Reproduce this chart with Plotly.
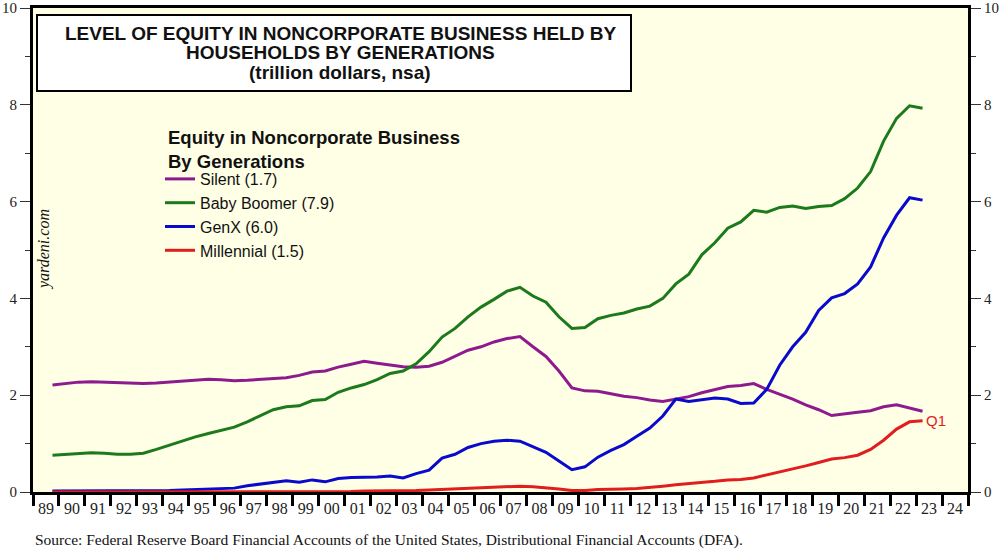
import plotly.graph_objects as go

# Semi-annual observation times (quarter ends: Q3 and Q1), 1989Q3 .. 2023Q1
t = [1989.75 + 0.5 * i for i in range(68)]

silent = [2.21, 2.24, 2.27, 2.28, 2.27, 2.26, 2.25, 2.24, 2.25, 2.27,
          2.29, 2.31, 2.33, 2.32, 2.30, 2.31, 2.33, 2.34, 2.36, 2.41,
          2.48, 2.50, 2.58, 2.64, 2.70, 2.66, 2.63, 2.59, 2.58, 2.60,
          2.68, 2.80, 2.93, 3.00, 3.10, 3.17, 3.21, 3.00, 2.80, 2.50,
          2.15, 2.09, 2.08, 2.03, 1.98, 1.95, 1.90, 1.87, 1.92, 1.97,
          2.05, 2.12, 2.18, 2.20, 2.24, 2.12, 2.02, 1.92, 1.80, 1.70,
          1.58, 1.62, 1.65, 1.68, 1.76, 1.80, 1.74, 1.67]

boomer = [0.76, 0.78, 0.80, 0.81, 0.80, 0.78, 0.78, 0.80, 0.88, 0.97,
          1.06, 1.14, 1.21, 1.28, 1.34, 1.45, 1.58, 1.70, 1.76, 1.78,
          1.89, 1.91, 2.06, 2.15, 2.22, 2.32, 2.45, 2.50, 2.65, 2.90,
          3.20, 3.38, 3.62, 3.82, 3.98, 4.15, 4.23, 4.05, 3.92, 3.62,
          3.38, 3.40, 3.58, 3.65, 3.70, 3.78, 3.84, 4.00, 4.30, 4.50,
          4.90, 5.15, 5.45, 5.58, 5.82, 5.78, 5.88, 5.91, 5.86, 5.90,
          5.92, 6.06, 6.28, 6.62, 7.25, 7.72, 7.98, 7.93]

genx = [0.02, 0.02, 0.02, 0.02, 0.02, 0.02, 0.02, 0.02, 0.03, 0.03,
        0.04, 0.05, 0.06, 0.07, 0.08, 0.13, 0.16, 0.20, 0.23, 0.20,
        0.25, 0.21, 0.28, 0.30, 0.30, 0.31, 0.33, 0.29, 0.38, 0.45,
        0.70, 0.78, 0.92, 1.00, 1.05, 1.07, 1.05, 0.93, 0.82, 0.64,
        0.46, 0.52, 0.72, 0.86, 0.98, 1.15, 1.32, 1.57, 1.92, 1.87,
        1.90, 1.94, 1.92, 1.83, 1.84, 2.12, 2.62, 3.00, 3.30, 3.75,
        4.01, 4.10, 4.30, 4.65, 5.25, 5.72, 6.08, 6.03]

millennial = [0.00, 0.00, 0.00, 0.00, 0.00, 0.00, 0.00, 0.00, 0.00, 0.00,
              0.00, 0.00, 0.00, 0.00, 0.00, 0.00, 0.00, 0.00, 0.01, 0.01,
              0.01, 0.01, 0.01, 0.01, 0.02, 0.02, 0.02, 0.03, 0.03, 0.04,
              0.05, 0.06, 0.07, 0.08, 0.09, 0.11, 0.12, 0.11, 0.09, 0.06,
              0.03, 0.03, 0.05, 0.05, 0.06, 0.07, 0.09, 0.12, 0.15, 0.17,
              0.20, 0.22, 0.25, 0.26, 0.29, 0.35, 0.42, 0.47, 0.54, 0.61,
              0.68, 0.71, 0.76, 0.88, 1.07, 1.30, 1.45, 1.47]

names = ["Silent (1.7)", "Baby Boomer (7.9)", "GenX (6.0)", "Millennial (1.5)"]
colors = ["#8E1B8E", "#1C7A1C", "#0A0ACD", "#E01E1E"]
series = [silent, boomer, genx, millennial]

year_labels = ["89", "90", "91", "92", "93", "94", "95", "96", "97", "98", "99",
               "00", "01", "02", "03", "04", "05", "06", "07", "08", "09", "10",
               "11", "12", "13", "14", "15", "16", "17", "18", "19", "20", "21",
               "22", "23", "24"]
label_pos = [1989.5 + i for i in range(len(year_labels))]

title_lines = ["LEVEL OF EQUITY IN NONCORPORATE BUSINESS HELD BY",
               "HOUSEHOLDS BY GENERATIONS",
               "(trillion dollars, nsa)"]
legend_title = "Equity in Noncorporate Business<br>By Generations"

fig = go.Figure()
for s, n, c in zip(series, names, colors):
    fig.add_trace(go.Scatter(x=t, y=s, name=n, mode="lines",
                             line=dict(color=c, width=3)))
# invisible trace to activate right axis
fig.add_trace(go.Scatter(x=[t[0]], y=[0], yaxis="y2", mode="lines",
                         showlegend=False, hoverinfo="skip",
                         line=dict(color="rgba(0,0,0,0)")))

serif = "Liberation Serif, Times New Roman, serif"
sans = "Liberation Sans, Arial, sans-serif"

yax = dict(range=[0, 10], tickvals=[0, 2, 4, 6, 8, 10], ticks="outside",
           ticklen=10, tickwidth=1, tickcolor="#333", showgrid=False,
           zeroline=False, showline=True, linewidth=3, linecolor="black",
           automargin=False, ticklabelstandoff=0, ticklabeloverflow="allow",
           tickfont=dict(family=serif, size=15, color="#222"),
           minor=dict(tickvals=[1, 3, 5, 7, 9], ticks="outside", ticklen=5,
                      tickwidth=1, tickcolor="#333"))

W, H = 1000, 554
L, R, T, B = 33, 32, 8, 62
PW, PH = W - L - R, H - T - B


def px(x):
    return (x - L) / PW


def py(y):
    return (H - B - y) / PH


fig.update_layout(
    width=W, height=H,
    margin=dict(l=L, r=R, t=T, b=B),
    paper_bgcolor="white",
    plot_bgcolor="#FFFFE6",
    xaxis=dict(range=[1989, 2025], tickvals=label_pos, ticktext=year_labels,
               ticks="", showgrid=False, zeroline=False, showline=True,
               linewidth=3, linecolor="black", mirror=True, automargin=False,
               ticklabeloverflow="allow",
               tickfont=dict(family=serif, size=16, color="#222"),
               minor=dict(tick0=1989, dtick=1, ticks="outside", ticklen=11,
                          tickwidth=3, tickcolor="black")),
    yaxis=dict(**yax, side="left", mirror=True),
    yaxis2=dict(**yax, side="right", overlaying="y"),
    showlegend=True,
    legend=dict(x=px(160), y=py(162), xanchor="left", yanchor="top",
                bgcolor="rgba(0,0,0,0)", borderwidth=0,
                font=dict(family=sans, size=16, color="#111"),
                tracegroupgap=0, itemwidth=30),
)

# Title box
fig.add_shape(type="rect", xref="paper", yref="paper",
              x0=px(37), x1=px(631), y0=py(91), y1=py(15),
              fillcolor="white", line=dict(color="black", width=2), layer="above")
for line, yy in zip(title_lines, [33, 52.5, 72]):
    fig.add_annotation(xref="paper", yref="paper", x=px(340), y=py(yy),
                       xanchor="center", yanchor="middle",
                       text="<b>" + line + "</b>", showarrow=False,
                       font=dict(family=sans, size=19, color="#111"))

fig.add_annotation(xref="paper", yref="paper", x=px(166), y=py(149),
                   xanchor="left", yanchor="middle", align="left",
                   text="<b>" + legend_title + "</b>", showarrow=False,
                   font=dict(family=sans, size=18.5, color="#111"))

fig.add_annotation(x=2023.3, y=1.47, xref="x", yref="y", text="Q1",
                   showarrow=False, xanchor="left", yanchor="middle",
                   font=dict(family=sans, size=15, color="#E01E1E"))

fig.add_annotation(xref="paper", yref="paper", x=px(44), y=py(250),
                   xanchor="center", yanchor="middle",
                   text="<i>yardeni.com</i>", textangle=-90, showarrow=False,
                   font=dict(family=serif, size=16, color="#111"))

fig.add_annotation(xref="paper", yref="paper", x=0, y=py(540),
                   xanchor="left", yanchor="middle",
                   text="Source: Federal Reserve Board Financial Accounts of the United States, Distributional Financial Accounts (DFA).",
                   showarrow=False, font=dict(family=serif, size=15.5, color="#111"))

fig.write_html("out.html", config={"displayModeBar": False},
               post_script="document.body.style.margin='0';document.body.style.overflow='hidden';")
